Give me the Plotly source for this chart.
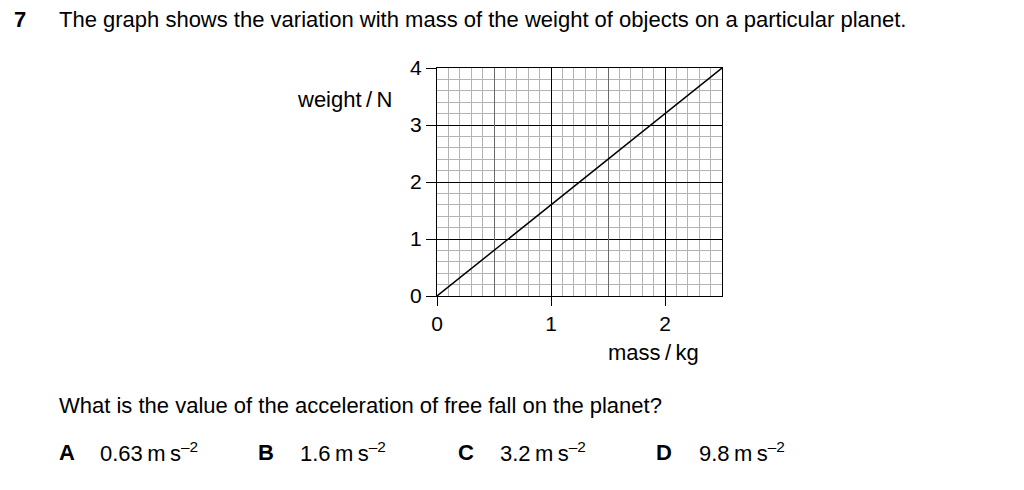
import plotly.graph_objects as go

# data
mass = [0, 2.5]
weight = [0, 4]
x_ticks = [0, 1, 2]
y_ticks = [0, 1, 2, 3, 4]
x_half = [0.5, 1.5]

W, H = 1024, 490
OFF = 8  # page body margin
L, R, T, B = 437 - OFF, 722 - OFF, 68 - OFF, 296 - OFF  # plot area in px

def px(x):
    return (x - OFF - L) / (R - L)

def py(y):
    return (B - (y - OFF)) / (B - T)

FONT = "Liberation Sans, Arial, sans-serif"
TS = 22  # text size
TICK = 21

fig = go.Figure()
fig.add_trace(go.Scatter(x=mass, y=weight, mode="lines",
                         line=dict(color="black", width=1.5),
                         showlegend=False, hoverinfo="skip"))
# invisible trace on overlay axis for 0.5 lines
fig.add_trace(go.Scatter(x=mass, y=weight, xaxis="x2", mode="lines",
                         line=dict(width=0), opacity=0,
                         showlegend=False, hoverinfo="skip"))

fig.update_layout(
    width=W, height=H,
    margin=dict(l=L, r=W - R, t=T, b=H - B, pad=0),
    paper_bgcolor="white", plot_bgcolor="white",
    font=dict(family=FONT, size=TICK, color="black"),
    xaxis=dict(range=[0, 2.5], tickvals=x_ticks, ticks="outside", ticklen=9,
               tickwidth=1, tickcolor="black",
               showgrid=True, gridcolor="black", gridwidth=1,
               zeroline=False, showline=True, linecolor="black", linewidth=1,
               mirror=True,
               minor=dict(dtick=0.1, showgrid=True, gridcolor="#b4b4b4", gridwidth=1),
               tickfont=dict(size=TICK), fixedrange=True),
    xaxis2=dict(range=[0, 2.5], overlaying="x", tickvals=x_half,
                showgrid=True, gridcolor="#6a6a6a", gridwidth=1,
                showticklabels=False, ticks="", zeroline=False,
                showline=False, fixedrange=True),
    yaxis=dict(range=[0, 4], tickvals=y_ticks, ticks="outside", ticklen=10,
               tickwidth=1, tickcolor="black",
               showgrid=True, gridcolor="black", gridwidth=1,
               zeroline=False, showline=True, linecolor="black", linewidth=1,
               mirror=True,
               minor=dict(dtick=0.2, showgrid=True, gridcolor="#b4b4b4", gridwidth=1),
               tickfont=dict(size=TICK), fixedrange=True),
)

ann = []
def text(x, y, s, size=TS, anchor="left"):
    ann.append(dict(x=px(x), y=py(y), xref="paper", yref="paper", text=s,
                    showarrow=False, xanchor=anchor, yanchor="middle",
                    font=dict(family=FONT, size=size, color="black")))

TH = "\u2009"
text(12, 19, "<b>7</b>")
text(57, 19, "The graph shows the variation with mass of the weight of objects on a particular planet.")
text(394, 99, "weight" + TH + "/" + TH + "N", anchor="right")
text(701, 352, "mass" + TH + "/" + TH + "kg", anchor="right")
text(57, 405, "What is the value of the acceleration of free fall on the planet?")
opts = [("A", "0.63", 57, 98),
        ("B", "1.6", 256, 298),
        ("C", "3.2", 456, 498),
        ("D", "9.8", 654, 697)]
for letter, val, xl, xv in opts:
    text(xl, 452, "<b>" + letter + "</b>")
    text(xv, 452, val + TH + "m" + TH + "s<sup>–2</sup>")

fig.update_layout(annotations=ann)
fig.write_html("out.html")
